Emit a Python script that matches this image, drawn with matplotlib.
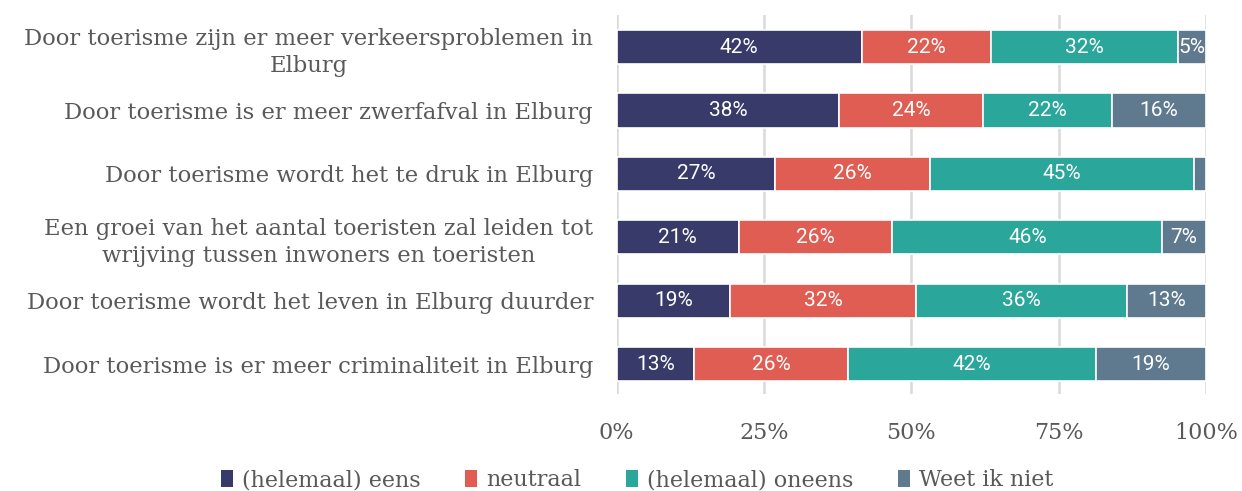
import matplotlib
matplotlib.use("Agg")
import matplotlib.pyplot as plt
from matplotlib.patches import Patch
import numpy as np

categories = [
    "Door toerisme zijn er meer verkeersproblemen in\nElburg",
    "Door toerisme is er meer zwerfafval in Elburg",
    "Door toerisme wordt het te druk in Elburg",
    "Een groei van het aantal toeristen zal leiden tot\nwrijving tussen inwoners en toeristen",
    "Door toerisme wordt het leven in Elburg duurder",
    "Door toerisme is er meer criminaliteit in Elburg",
]
series_names = ["(helemaal) eens", "neutraal", "(helemaal) oneens", "Weet ik niet"]
eens = [41.6, 37.8, 26.9, 20.7, 19.2, 13.1]
neutraal = [21.9, 24.4, 26.3, 26.1, 31.6, 26.2]
oneens = [31.7, 21.8, 44.8, 45.8, 35.8, 42.0]
weet = [4.8, 16.0, 2.0, 7.4, 13.4, 18.7]
xticks = [0, 25, 50, 75, 100]
xtick_labels = ["0%", "25%", "50%", "75%", "100%"]

colors = ["#383b69", "#df5d52", "#2aa69b", "#5f7a8f"]
text_gray = "#595959"
serif = ["DejaVu Serif"]

fig = plt.figure(figsize=(12.42, 4.91), dpi=100)
ax = fig.add_axes([0.4965, 0.198, 0.4745, 0.771])

y = np.arange(len(categories))
left = np.zeros(len(categories))
for vals, col in zip([eens, neutraal, oneens, weet], colors):
    vals = np.array(vals)
    ax.barh(y, vals, left=left, height=0.54, color=col,
            edgecolor="white", linewidth=1.2, zorder=3)
    for yi, l, v in zip(y, left, vals):
        if v >= 3:
            ax.text(l + v / 2, yi, f"{v:.0f}%", ha="center", va="center",
                    color="white", fontsize=15, family=["Roboto", "DejaVu Sans"],
                    zorder=4)
    left = left + vals

ax.set_xlim(0, 100)
ax.set_ylim(5.47, -0.505)
ax.set_xticks(xticks)
ax.set_xticklabels(xtick_labels, family=serif, fontsize=16, color=text_gray)
ax.set_yticks(y)
ax.set_yticklabels(categories, family=serif, fontsize=16.3, color=text_gray,
                   ha="right", multialignment="center", linespacing=1.3)
ax.tick_params(axis="y", length=0, pad=17)
ax.tick_params(axis="x", length=0, pad=20)
for s in ax.spines.values():
    s.set_visible(False)
ax.grid(axis="x", color="#d9d9d9", linewidth=1.8, zorder=0)
ax.set_axisbelow(True)

handles = [Patch(facecolor=c, edgecolor="none") for c in colors]
leg = fig.legend(handles, series_names, loc="center", bbox_to_anchor=(0.513, 0.022),
                 ncol=4, frameon=False, handlelength=0.55, handleheight=0.8,
                 handletextpad=0.4, columnspacing=2.0,
                 prop={"family": serif, "size": 16})
for t in leg.get_texts():
    t.set_color(text_gray)

fig.savefig("out.png", dpi=100)
